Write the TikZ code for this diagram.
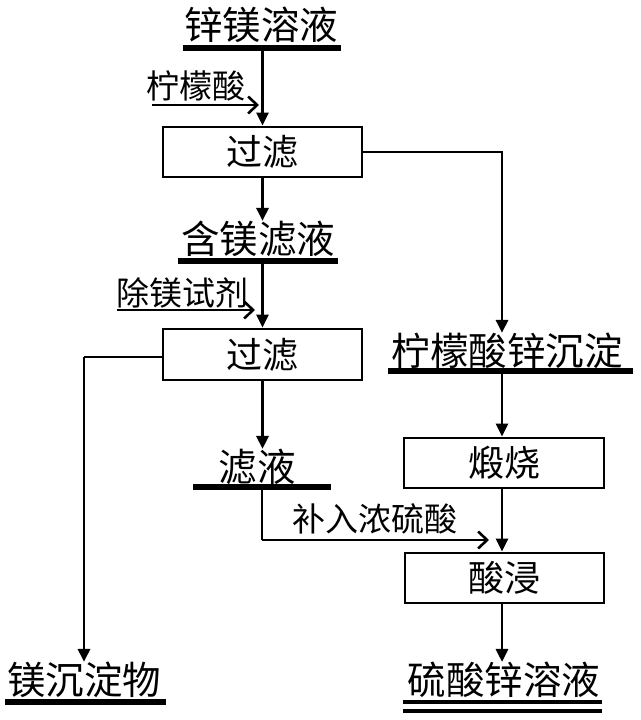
\documentclass[tikz,border=0pt]{standalone}
\usepackage{fontspec}
\newfontfamily\cjk{Noto Sans CJK SC}
\usetikzlibrary{arrows.meta}
\begin{document}
\begin{tikzpicture}[x=1pt,y=-1pt,
  stepbox/.style={draw,line width=2.8pt,minimum width=199pt,minimum height=50pt,inner sep=0pt,font=\cjk\fontsize{36}{36}\selectfont},
  bigtxt/.style={inner sep=0pt,font=\cjk\fontsize{38.5}{38.5}\selectfont},
  smalltxt/.style={inner sep=0pt,font=\cjk\fontsize{33}{33}\selectfont},
  barline/.style={fill=black,inner sep=0pt,minimum height=5.5pt},
  conn/.style={line width=2.8pt,-{Triangle[length=13pt,width=12pt]}},
  sideconn/.style={line width=2.8pt,-{Straight Barb[length=9pt,width=17pt,line width=2.6pt]}}]
\useasboundingbox (0,0) rectangle (640,720);
% top input
\node[bigtxt] (zm) at (261,25) {锌镁溶液};
\node[barline,minimum width=158pt] (bar1) at (262,48) {};
\node[stepbox] (box1) at (262.5,152) {过滤};
\node[smalltxt] (nmsa) at (196,86) {柠檬酸};
\coordinate (c1s) at (152,105);
\coordinate (c1e) at (259,105);
% second stage
\node[bigtxt] (hmly) at (258,239) {含镁滤液};
\node[barline,minimum width=160pt] (bar2) at (258,261) {};
\node[smalltxt] (cmsj) at (182,293) {除镁试剂};
\coordinate (c2s) at (117,310);
\coordinate (c2e) at (255,310);
\node[stepbox,minimum height=51pt] (box2) at (262.5,354.5) {过滤};
% right branch
\node[bigtxt] (nmsx) at (507,351) {柠檬酸锌沉淀};
\node[barline,minimum width=245pt] (bar3) at (510.5,371) {};
\node[stepbox,minimum width=200pt] (box3) at (504,463) {煅烧};
\node[stepbox] (box4) at (504.5,578) {酸浸};
\node[bigtxt] (lsx) at (504,680) {硫酸锌溶液};
\node[barline,minimum width=199pt,minimum height=4.5pt] (bar6) at (502.5,702) {};
\node[barline,minimum width=199pt,minimum height=4.5pt] (bar6b) at (502.5,711) {};
% filtrate
\node[bigtxt] (ly) at (257,467) {滤液};
\node[barline,minimum width=138pt] (bar4) at (262,487) {};
\node[smalltxt] (brnls) at (375,519) {补入浓硫酸};
\coordinate (c3) at (262,540);
\coordinate (c3e) at (489,540);
% left product
\node[bigtxt] (mcd) at (84,680) {镁沉淀物};
\node[barline,minimum width=161pt] (bar5) at (85.5,702) {};
\coordinate (lc) at (84,357);
% connectors
\draw[conn] (box1.north |- bar1.south) -- (box1.north);
\draw[sideconn] (c1s) -- (c1e);
\draw[conn] (box1.south) -- (box1.south |- hmly.north);
\draw[conn] (box2.north |- bar2.south) -- (box2.north);
\draw[sideconn] (c2s) -- (c2e);
\draw[conn] (box1.east |- 0,152) -| (502,0 |- nmsx.north);
\draw[line width=2.8pt] (box2.west |- lc) -- (lc);
\draw[conn] (lc) -- (lc |- mcd.north);
\draw[conn] (box2.south) -- (box2.south |- ly.north);
\draw[line width=2.8pt] (bar4.south -| c3) -- (c3);
\draw[sideconn] (c3) -- (c3e);
\draw[conn] (bar3.south -| 502,0) -- (box3.north -| 502,0);
\draw[conn] (box3.south -| 502,0) -- (box4.north -| 502,0);
\draw[conn] (box4.south -| 502,0) -- (502,0 |- lsx.north);
\end{tikzpicture}
\end{document}
